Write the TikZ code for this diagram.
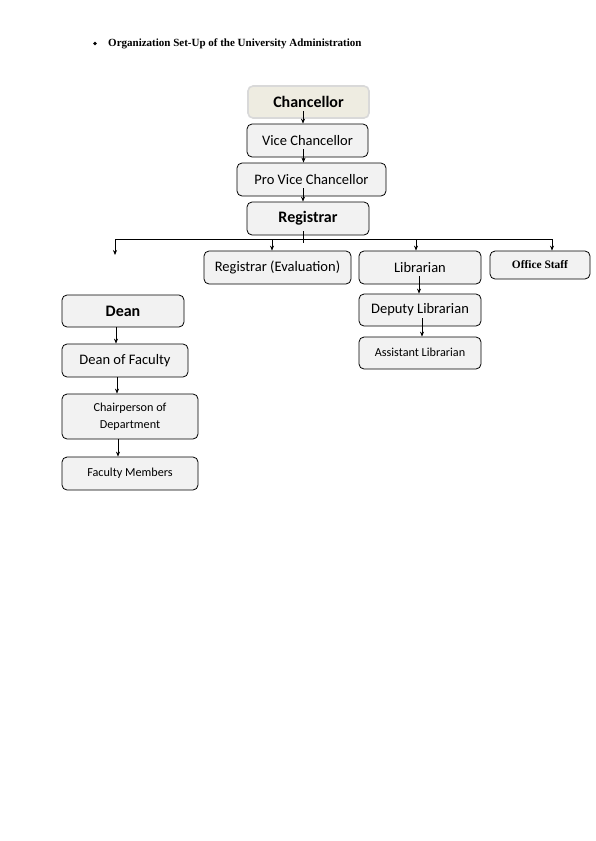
\documentclass[tikz,border=0pt]{standalone}
\usepackage{fontspec}
\setmainfont{Carlito}
\newfontfamily\serifb{Liberation Serif}
\usetikzlibrary{arrows.meta}
\definecolor{boxfill}{HTML}{F2F2F2}
\definecolor{tanfill}{HTML}{EEECE1}
\tikzset{
  box/.style={draw=black, line width=0.8pt, fill=boxfill, rounded corners=5pt, inner sep=0pt, align=center},
  topbox/.style={draw=black!15, line width=1.6pt, fill=tanfill, rounded corners=5pt, inner sep=0pt},
  arr/.style={line width=0.7pt, -{Stealth[length=5pt,width=4pt]}},
  ln/.style={line width=0.7pt},
  reg/.style={font=\fontsize{14.5}{17}\selectfont},
  regb/.style={font=\bfseries\fontsize{16}{19}\selectfont},
  small/.style={font=\fontsize{12.2}{14}\selectfont}
}
\begin{document}
\begin{tikzpicture}[x=1pt,y=-1pt]
\useasboundingbox[fill=white] (0,0) rectangle (595,841);
% header
\node[circle, fill=black, inner sep=0pt, minimum size=3.8pt] (bul) at (95,43.5) {};
\node[anchor=west, inner sep=0pt, font=\serifb\bfseries\fontsize{11}{13}\selectfont] (title) at (108,43.5) {Organization Set-Up of the University Administration};
% boxes
\node[topbox, minimum width=121, minimum height=32, regb] (chan) at (308.5,102) {Chancellor};
\node[box, minimum width=121, minimum height=33, reg] (vc) at (307.5,140.5) {Vice Chancellor};
\node[box, minimum width=149, minimum height=33, reg] (pvc) at (311.5,179.5) {Pro Vice Chancellor};
\node[box, minimum width=122, minimum height=33, regb] (reg) at (308,218.5) {Registrar};
\node[box, minimum width=147, minimum height=33, reg] (rege) at (277.5,267.5) {Registrar (Evaluation)};
\node[box, minimum width=122, minimum height=33, reg] (lib) at (420,267.5) {Librarian};
\node[box, minimum width=100, minimum height=28, font=\serifb\bfseries\fontsize{11.4}{13}\selectfont] (off) at (540,265) {\raisebox{2pt}{Office Staff}};
\node[box, minimum width=122, minimum height=32, reg] (dlib) at (420,310) {Deputy Librarian};
\node[box, minimum width=122, minimum height=32, small] (alib) at (420,353) {\raisebox{2pt}{Assistant Librarian}};
\node[box, minimum width=122, minimum height=32, regb] (dean) at (123,311) {Dean};
\node[box, minimum width=126, minimum height=33, reg] (dof) at (125,360.5) {Dean of Faculty};
\node[box, minimum width=136, minimum height=45, font=\fontsize{12.2}{17}\selectfont] (chair) at (130,416.5) {Chairperson of\\Department};
\node[box, minimum width=136, minimum height=33, small] (fm) at (130,473.5) {\raisebox{3pt}{Faculty Members}};
% vertical chain
\draw[arr] ([xshift=-5.5pt,yshift=8pt]chan.south) -- ([xshift=-4.5pt]vc.north);
\draw[arr] ([xshift=-4pt,yshift=8pt]vc.south) -- ([xshift=-8pt]pvc.north);
\draw[arr] ([xshift=-8.5pt,yshift=8pt]pvc.south) -- ([xshift=-5pt]reg.north);
% bus
\coordinate (busL) at (115,239);
\coordinate (busR) at (552,239);
\coordinate (t1) at (272,239);
\coordinate (t2) at (416,239);
\coordinate (dn) at (115,255);
\draw[ln] (busL) -- (busR);
\draw[ln] ([xshift=-5pt,yshift=4pt]reg.south) -- ([xshift=-5pt,yshift=-8pt]reg.south);
\draw[arr] (busL) -- (dn);
\draw[arr] (t1) -- (t1 |- rege.north);
\draw[arr] (t2) -- (t2 |- lib.north);
\draw[arr] (busR) -- (busR |- off.north);
% librarian chain
\draw[arr] ([xshift=-1pt,yshift=8pt]lib.south) -- ([xshift=-1pt]dlib.north);
\draw[arr] ([xshift=2pt,yshift=8pt]dlib.south) -- ([xshift=2pt]alib.north);
% dean chain
\draw[arr] ([xshift=-7pt]dean.south) -- ([xshift=-9pt]dof.north);
\draw[arr] ([xshift=-8pt]dof.south) -- ([xshift=-13pt]chair.north);
\draw[arr] ([xshift=-12pt]chair.south) -- ([xshift=-12pt]fm.north);
\end{tikzpicture}
\end{document}
